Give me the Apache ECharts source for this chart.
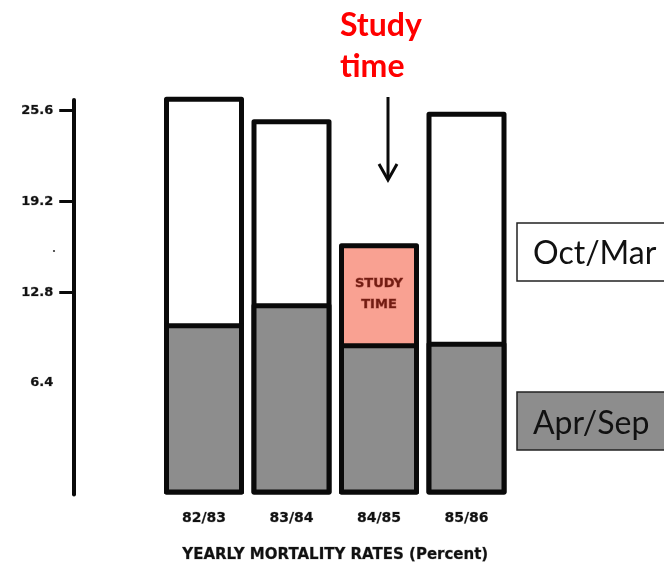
<!DOCTYPE html>
<html>
<head>
<meta charset="utf-8">
<style>
  html, body { margin: 0; padding: 0; background: #ffffff; }
  #chart { width: 664px; height: 569px; }
</style>
<script src="https://cdn.jsdelivr.net/npm/echarts@6/dist/echarts.min.js"></script>
</head>
<body>
<div id="chart"></div>
<script>
// Yearly mortality rates (percent), split by season
const seasons = ['82/83', '83/84', '84/85', '85/86'];
const yearTotal = [26.58, 24.99, 16.25, 25.52];  // whole year (Oct/Mar on top of Apr/Sep)
const aprSep = [10.61, 12.02, 9.2, 9.32];         // Apr/Sep portion
const tickValues = [12.8, 19.2, 25.6];
const labelValues = [6.4, 12.8, 19.2, 25.6];
const studyIndex = 2;

const chart = echarts.init(document.getElementById('chart'), null, { renderer: 'canvas' });

const scanFont = '"DejaVu Sans", sans-serif';
const borderStyle = { borderColor: '#0a0a0a', borderWidth: 5, borderJoin: 'round' };

const totalData = yearTotal.map((v, i) => i === studyIndex
  ? {
      value: v,
      itemStyle: { color: '#f9a192' },
      label: {
        show: true,
        position: 'insideTop',
        distance: 30,
        formatter: 'STUDY\nTIME',
        color: '#731c12',
        fontFamily: scanFont,
        fontWeight: 'bold',
        fontSize: 13,
        lineHeight: 21,
        textBorderColor: 'rgba(115,28,18,0.45)',
        textBorderWidth: 0.8
      }
    }
  : v);

chart.setOption({
  animation: false,
  backgroundColor: '#ffffff',
  grid: { left: 160.25, right: 153.75, top: 100, bottom: 74.5, containLabel: false },
  xAxis: {
    type: 'category',
    data: seasons,
    axisLine: { show: false },
    axisTick: { show: false },
    axisLabel: {
      margin: 17,
      color: '#111',
      fontFamily: scanFont,
      fontWeight: 'bold',
      fontSize: 14,
      textBorderColor: 'rgba(17,17,17,0.4)',
      textBorderWidth: 0.6
    },
    name: 'YEARLY MORTALITY RATES (Percent)',
    nameLocation: 'middle',
    nameGap: 53,
    nameTextStyle: {
      color: '#111',
      fontFamily: scanFont,
      fontWeight: 'bold',
      fontSize: 15,
      textBorderColor: 'rgba(17,17,17,0.4)',
      textBorderWidth: 0.6
    }
  },
  yAxis: {
    type: 'value',
    min: -1.45,
    max: 26.35,
    startValue: -1.45,
    offset: 87,
    splitLine: { show: false },
    axisLine: { show: true, lineStyle: { color: '#0a0a0a', width: 4 } },
    axisTick: {
      show: true,
      length: 14,
      lineStyle: { color: '#0a0a0a', width: 3 },
      customValues: tickValues
    },
    axisLabel: {
      margin: 20,
      color: '#111',
      fontFamily: scanFont,
      fontWeight: 'bold',
      fontSize: 13,
      textBorderColor: 'rgba(17,17,17,0.4)',
      textBorderWidth: 0.6,
      customValues: labelValues,
      formatter: v => v.toFixed(1)
    }
  },
  series: [
    {
      name: 'Oct/Mar',
      type: 'bar',
      data: totalData,
      barWidth: 80,
      barGap: '-100%',
      clip: false,
      itemStyle: Object.assign({ color: '#ffffff' }, borderStyle)
    },
    {
      name: 'Apr/Sep',
      type: 'bar',
      data: aprSep,
      barWidth: 80,
      barGap: '-100%',
      clip: false,
      itemStyle: Object.assign({ color: '#8d8d8d' }, borderStyle)
    }
  ],
  graphic: [
    {
      type: 'text',
      left: 340, top: 5,
      style: {
        text: 'Study\ntime',
        fill: '#ff0000',
        font: 'bold 32px Lato, "Open Sans", sans-serif',
        lineHeight: 41,
        align: 'center',
        width: 88
      }
    },
    {
      type: 'line',
      shape: { x1: 388, y1: 97, x2: 388, y2: 179 },
      style: { stroke: '#0a0a0a', lineWidth: 3 }
    },
    {
      type: 'polyline',
      shape: { points: [[379, 164], [388, 180], [397, 164]] },
      style: { stroke: '#0a0a0a', lineWidth: 3, fill: null, lineJoin: 'miter' }
    },
    {
      // stray mark left of the axis near 16
      type: 'circle',
      shape: { cx: 54, cy: 251, r: 1.1 },
      style: { fill: '#333' }
    },
    {
      type: 'group',
      children: [
        {
          type: 'rect',
          shape: { x: 517, y: 223, width: 170, height: 58 },
          style: { fill: '#ffffff', stroke: '#222', lineWidth: 1.5 }
        },
        {
          type: 'text',
          x: 533, y: 254,
          style: {
            text: 'Oct/Mar',
            fill: '#111',
            font: '32px Lato, "Open Sans", sans-serif',
            verticalAlign: 'middle'
          }
        },
        {
          type: 'rect',
          shape: { x: 517, y: 392, width: 170, height: 58 },
          style: { fill: '#8d8d8d', stroke: '#222', lineWidth: 1.5 }
        },
        {
          type: 'text',
          x: 533, y: 424,
          style: {
            text: 'Apr/Sep',
            fill: '#111',
            font: '32px Lato, "Open Sans", sans-serif',
            verticalAlign: 'middle'
          }
        }
      ]
    }
  ]
});
</script>
</body>
</html>
